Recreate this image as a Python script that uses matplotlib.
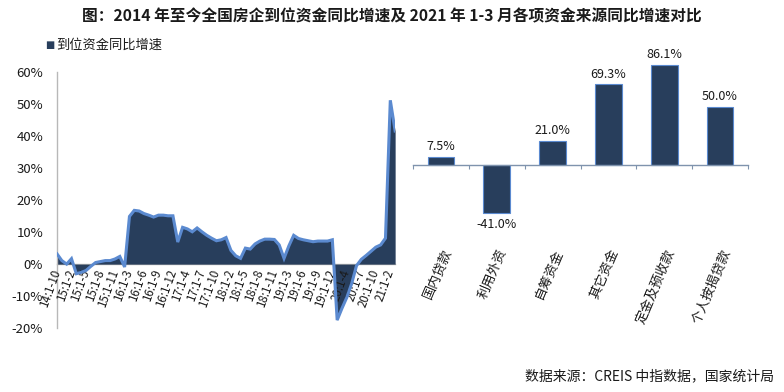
import matplotlib
matplotlib.use("Agg")
import matplotlib.pyplot as plt
import numpy as np

plt.rcParams['font.family'] = ['Noto Sans CJK SC', 'DejaVu Sans']

# ---- left chart data (到位资金同比增速, %) ----
periods = (["14:1-10", "14:1-11", "14:1-12"]
           + [f"{y}:1-{m}" for y in range(15, 21) for m in range(2, 13)]
           + ["21:1-2", "21:1-3"])
growth = [3.2, 1.1, 0.0, 1.7, -3.0, -2.6, -2.0, -0.7, 0.5, 0.8, 1.1, 1.1, 1.6, 2.4,
          -0.9, 14.9, 16.8, 16.6, 15.8, 15.3, 14.7, 15.3, 15.3, 15.1, 15.1,
          6.9, 11.5, 11.0, 10.1, 11.3, 10.1, 9.0, 8.1, 7.3, 7.6, 8.3,
          4.3, 2.6, 1.8, 5.0, 4.7, 6.3, 7.2, 7.8, 7.8, 7.7, 6.0,
          1.8, 5.7, 9.0, 8.0, 7.6, 7.3, 7.0, 7.2, 7.2, 7.2, 7.6,
          -17.5, -13.8, -10.4, -6.1, -0.5, 1.5, 2.7, 4.0, 5.3, 6.0, 8.1,
          51.2, 41.6]
yticks_left = [-20, -10, 0, 10, 20, 30, 40, 50, 60]

# ---- right chart data ----
sources = ["国内贷款", "利用外资", "自筹资金", "其它资金", "定金及预收款", "个人按揭贷款"]
source_growth = [7.5, -41.0, 21.0, 69.3, 86.1, 50.0]

title = "图：2014 年至今全国房企到位资金同比增速及 2021 年 1-3 月各项资金来源同比增速对比"
source_note = "数据来源：CREIS 中指数据，国家统计局"
legend_label = "到位资金同比增速"

NAVY = "#283E5C"
LINE = "#5B8AD0"
GREY = "#B8B8B8"
TXT = "#1a1a1a"

fig = plt.figure(figsize=(7.84, 3.92), dpi=100)
fig.patch.set_facecolor("white")

fig.text(0.5, 0.957, title, ha="center", va="center", fontsize=11.3,
         fontweight="bold", color=TXT)

# ---------------- left ----------------
ax = fig.add_axes([0.0727, 0.163, 0.4313, 0.653])
x = np.arange(len(growth))
ax.fill_between(x, growth, 0, color=NAVY, linewidth=0, zorder=2)
ax.plot(x, growth, color=LINE, linewidth=2.2, zorder=3, solid_joinstyle="miter")
ax.set_axisbelow(False)
ax.set_xlim(0, len(growth) - 1)
ax.set_ylim(-20, 60)
ax.set_yticks(yticks_left)
ax.set_yticklabels([f"{v}%" for v in yticks_left], fontsize=9.5, color=TXT)
ax.tick_params(axis="y", length=0, pad=10)
for s in ["top", "right"]:
    ax.spines[s].set_visible(False)
ax.spines["left"].set_color(GREY)
ax.spines["left"].set_linewidth(1.0)
ax.spines["bottom"].set_position(("data", 0))
ax.spines["bottom"].set_color(GREY)
ax.spines["bottom"].set_linewidth(1.0)
ax.spines["bottom"].set_zorder(1)
tick_idx = list(range(0, len(growth), 3))
ax.set_xticks(tick_idx)
ax.set_xticklabels([periods[i] for i in tick_idx], rotation=70, ha="right",
                   va="center", rotation_mode="anchor", fontsize=8.3, color=TXT)
ax.tick_params(axis="x", length=0, pad=4)
ax.set_facecolor("none")

# legend
fig.text(0.057, 0.885, "■", fontsize=7, color=NAVY, ha="left", va="center",
         family="DejaVu Sans")
fig.text(0.071, 0.885, legend_label, fontsize=9.5, color=TXT, ha="left", va="center")

# ---------------- right ----------------
ax2 = fig.add_axes([0.527, 0.429, 0.427, 0.412])
xb = np.arange(len(sources))
ax2.bar(xb, source_growth, width=0.48, color=NAVY, edgecolor=LINE, linewidth=0.8,
        zorder=2)
ax2.set_xlim(-0.5, len(sources) - 0.5)
ax2.set_ylim(-50, 88)
ax2.set_yticks([])
for s in ["top", "right", "left"]:
    ax2.spines[s].set_visible(False)
ax2.spines["bottom"].set_position(("data", 0))
ax2.spines["bottom"].set_color("#7F93AD")
ax2.spines["bottom"].set_linewidth(1.0)
ax2.set_xticks(np.arange(-0.5, len(sources), 1.0))
ax2.set_xticklabels([])
ax2.tick_params(axis="x", length=3, direction="out", color="#7F93AD")
ax2.set_facecolor("none")
for xi, v in zip(xb, source_growth):
    if v >= 0:
        ax2.text(xi, v + 3, f"{v:.1f}%", ha="center", va="bottom", fontsize=9,
                 color=TXT, clip_on=False)
    else:
        ax2.text(xi, v - 4, f"{v:.1f}%", ha="center", va="top", fontsize=9,
                 color=TXT, clip_on=False)
for xi, lab in zip(xb, sources):
    ax2.text(xi + 0.12, -72, lab, rotation=67, ha="right", va="center",
             rotation_mode="anchor", fontsize=9.5, color=TXT, clip_on=False)

fig.text(0.988, 0.04, source_note, ha="right", va="center", fontsize=10, color=TXT)

fig.savefig("out.png", dpi=100, facecolor="white")
